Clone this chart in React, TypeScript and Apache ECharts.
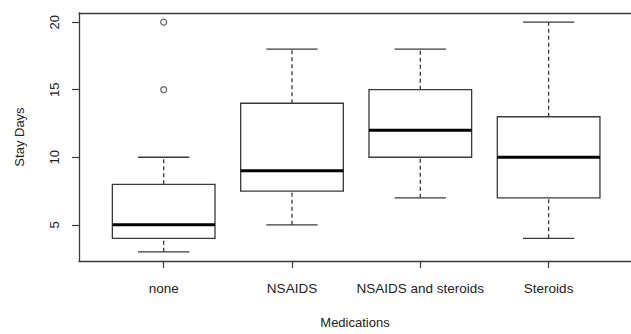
import React, { useEffect, useRef } from "react";
import * as echarts from "echarts";

const categories = ["none", "NSAIDS", "NSAIDS and steroids", "Steroids"];
const whiskerLow = [3, 5, 7, 4];
const q1 = [4, 7.5, 10, 7];
const median = [5, 9, 12, 10];
const q3 = [8, 14, 15, 13];
const whiskerHigh = [10, 18, 18, 20];
// outliers: [category index, value]
const outliers = [
  [0, 15],
  [0, 20],
];
const yTicks = [5, 10, 15, 20];
const xTitle = "Medications";
const yTitle = "Stay Days";

const BOX_WIDTH = 0.8;
const CAP_WIDTH = 0.4;
const LINE = "#3a3a3a";

export default function App() {
  const ref = useRef<HTMLDivElement>(null);
  useEffect(() => {
    if (!ref.current) return;
    const chart = echarts.init(ref.current, null, { renderer: "svg" });
    const boxData = categories.map((_, i) => [
      i + 1,
      whiskerLow[i],
      q1[i],
      median[i],
      q3[i],
      whiskerHigh[i],
    ]);
    const outlierData = outliers.map(([c, v]) => [c + 1, v]);
    const font = "Liberation Sans, Arial, Helvetica, sans-serif";
    chart.setOption({
      animation: false,
      grid: { left: 79, right: 0, top: 13, bottom: 68 },
      xAxis: [
        {
          type: "value",
          min: 0.34,
          max: 4.642,
          axisLine: { show: true, onZero: false, lineStyle: { color: LINE, width: 1.3 } },
          axisTick: {
            show: true,
            length: 7,
            customValues: [1, 2, 3, 4],
            lineStyle: { color: LINE, width: 1.2 },
          },
          axisLabel: {
            customValues: [1, 2, 3, 4],
            formatter: (v: number) => categories[Math.round(v) - 1] ?? "",
            fontFamily: font,
            fontSize: 13.5,
            color: "#222",
            margin: 20,
          },
          splitLine: { show: false },
          name: xTitle,
          nameLocation: "middle",
          nameGap: 55,
          nameTextStyle: { fontFamily: font, fontSize: 13, color: "#222" },
        },
        {
          type: "value",
          position: "top",
          min: 0.34,
          max: 4.642,
          axisLine: { show: true, onZero: false, lineStyle: { color: LINE, width: 1.3 } },
          axisTick: { show: false },
          axisLabel: { show: false },
          splitLine: { show: false },
        },
      ],
      yAxis: {
        type: "value",
        min: 2.32,
        max: 20.68,
        axisLine: { show: true, onZero: false, lineStyle: { color: LINE, width: 1.3 } },
        axisTick: {
          show: true,
          length: 7,
          customValues: yTicks,
          lineStyle: { color: LINE, width: 1.2 },
        },
        axisLabel: {
          customValues: yTicks,
          formatter: (v: number) => String(v),
          rotate: 90,
          fontFamily: font,
          fontSize: 13,
          color: "#222",
          margin: 18,
        },
        splitLine: { show: false },
        name: yTitle,
        nameLocation: "middle",
        nameGap: 53,
        nameTextStyle: { fontFamily: font, fontSize: 13, color: "#222" },
      },
      series: [
        {
          type: "custom",
          xAxisIndex: 0,
          yAxisIndex: 0,
          data: boxData,
          clip: false,
          renderItem: (params: any, api: any) => {
            const x = api.value(0);
            const pLow = api.coord([x, api.value(1)]);
            const pQ1 = api.coord([x, api.value(2)]);
            const pMed = api.coord([x, api.value(3)]);
            const pQ3 = api.coord([x, api.value(4)]);
            const pHigh = api.coord([x, api.value(5)]);
            const hb = api.size([BOX_WIDTH, 0])[0] / 2;
            const hc = api.size([CAP_WIDTH, 0])[0] / 2;
            const cx = pMed[0];
            const thin = { stroke: LINE, lineWidth: 1.3, fill: "none" };
            const dash = { stroke: LINE, lineWidth: 1.3, lineDash: [4, 3] };
            return {
              type: "group",
              children: [
                { type: "line", shape: { x1: cx, y1: pQ3[1], x2: cx, y2: pHigh[1] }, style: dash },
                { type: "line", shape: { x1: cx, y1: pLow[1], x2: cx, y2: pQ1[1] }, style: dash },
                { type: "line", shape: { x1: cx - hc, y1: pHigh[1], x2: cx + hc, y2: pHigh[1] }, style: thin },
                { type: "line", shape: { x1: cx - hc, y1: pLow[1], x2: cx + hc, y2: pLow[1] }, style: thin },
                {
                  type: "rect",
                  shape: { x: cx - hb, y: pQ3[1], width: hb * 2, height: pQ1[1] - pQ3[1] },
                  style: { stroke: LINE, lineWidth: 1.3, fill: "#fff" },
                },
                {
                  type: "line",
                  shape: { x1: cx - hb, y1: pMed[1], x2: cx + hb, y2: pMed[1] },
                  style: { stroke: "#000", lineWidth: 3 },
                },
              ],
            };
          },
        },
        {
          type: "scatter",
          xAxisIndex: 0,
          yAxisIndex: 0,
          data: outlierData,
          symbol: "circle",
          symbolSize: 6,
          itemStyle: { color: "#fff", borderColor: LINE, borderWidth: 1.2 },
        },
      ],
    });
    return () => chart.dispose();
  }, []);
  return (
    <div
      ref={ref}
      style={{ position: "absolute", left: 0, top: 0, width: 631, height: 334, background: "#fff" }}
    />
  );
}
